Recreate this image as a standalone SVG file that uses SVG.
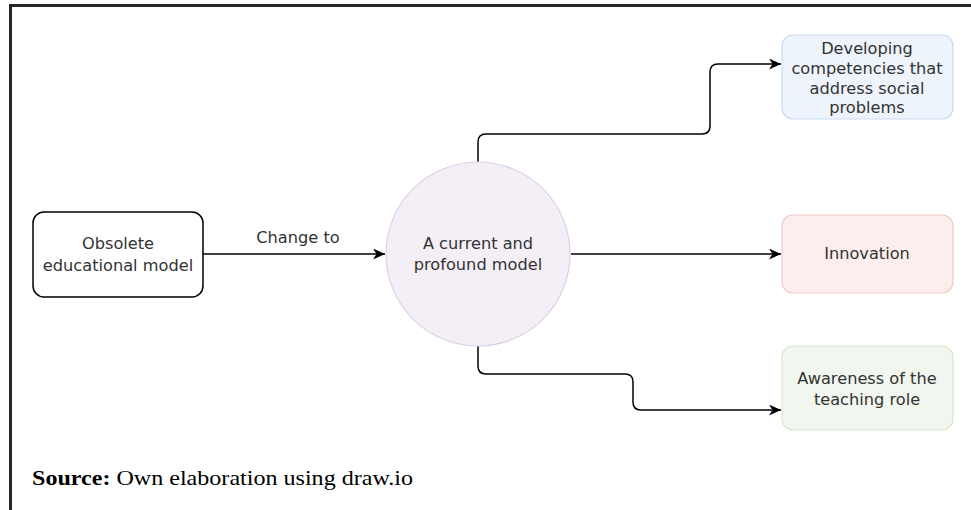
<svg xmlns="http://www.w3.org/2000/svg" width="971" height="510" viewBox="0 0 971 510">
<style>
.lbl{font-family:"DejaVu Sans","Verdana",sans-serif;font-size:16.2px;fill:#333333;text-anchor:middle}
.conn{fill:none;stroke:#000;stroke-width:1.5}
</style>
<defs>
<marker id="arr" markerWidth="13" markerHeight="11" refX="12" refY="5.5" orient="auto" markerUnits="userSpaceOnUse">
<path d="M0,0 L12,5.5 L0,11 L3.5,5.5 Z" fill="#000"/>
</marker>
</defs>
<rect x="0" y="0" width="971" height="510" fill="#fff"/>
<g id="frame">
<rect x="9" y="4" width="962" height="3" fill="#262626"/>
<rect x="9" y="4" width="3" height="506" fill="#262626"/>
</g>
<g id="connectors">
<path class="conn" d="M203,254 H385" marker-end="url(#arr)"/>
<path class="conn" d="M571,254 H781" marker-end="url(#arr)"/>
<path class="conn" d="M478,162 V142 Q478,134 486,134 H702 Q710,134 710,126 V72 Q710,64 718,64 H781" marker-end="url(#arr)"/>
<path class="conn" d="M478,346 V366 Q478,374 486,374 H625 Q633,374 633,382 V402 Q633,410 641,410 H781" marker-end="url(#arr)"/>
<text class="lbl" x="298" y="243">Change to</text>
</g>
<g id="node-obsolete">
<rect x="33" y="212" width="170" height="85" rx="11" fill="#fff" stroke="#000" stroke-width="1.5"/>
<text class="lbl" x="118" y="249">Obsolete</text>
<text class="lbl" x="118" y="271">educational model</text>
</g>
<g id="node-current">
<circle cx="478" cy="254" r="92" fill="#f4eff6" stroke="#ddd0e4" stroke-width="1.2"/>
<text class="lbl" x="478" y="249">A current and</text>
<text class="lbl" x="478" y="270">profound model</text>
</g>
<g id="node-competencies">
<rect x="782" y="35" width="171" height="84" rx="11" fill="#eef4fc" stroke="#c9daf0" stroke-width="1.2"/>
<text class="lbl" x="867" y="54">Developing</text>
<text class="lbl" x="867" y="74">competencies that</text>
<text class="lbl" x="867" y="94">address social</text>
<text class="lbl" x="867" y="113">problems</text>
</g>
<g id="node-innovation">
<rect x="782" y="215" width="171" height="78" rx="11" fill="#fbeeed" stroke="#f0cac6" stroke-width="1.2"/>
<text class="lbl" x="867" y="259">Innovation</text>
</g>
<g id="node-awareness">
<rect x="782" y="346" width="171" height="84" rx="11" fill="#f1f7ee" stroke="#d6e8cd" stroke-width="1.2"/>
<text class="lbl" x="867" y="384">Awareness of the</text>
<text class="lbl" x="867" y="405">teaching role</text>
</g>
<text x="32" y="485" font-family="'Liberation Serif','Times New Roman',serif" font-size="21px" fill="#000" textLength="381" lengthAdjust="spacingAndGlyphs"><tspan font-weight="bold">Source:</tspan> Own elaboration using draw.io</text>
</svg>
